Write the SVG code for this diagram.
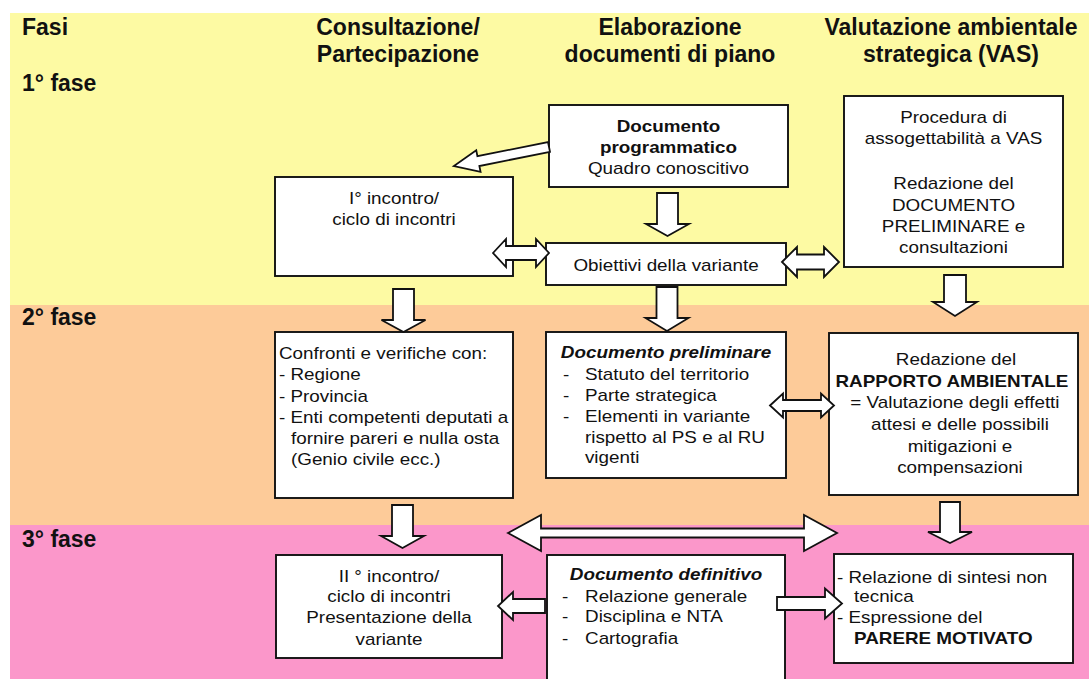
<svg xmlns="http://www.w3.org/2000/svg" width="1089" height="679" viewBox="0 0 1089 679">
<style>
.box{fill:#fff;stroke:#111;stroke-width:1.9}
.arr{fill:#fff;stroke:#111;stroke-width:1.8;stroke-linejoin:miter}
.t{font-family:"Liberation Sans",Arial,sans-serif;font-size:15.7px;fill:#111}
.b{font-weight:bold}
.bi{font-weight:bold;font-style:italic}
.h{font-family:"Liberation Sans",Arial,sans-serif;font-weight:bold;font-size:23px;fill:#111}
.m{text-anchor:middle}
</style>
<rect x="0" y="0" width="1089" height="679" fill="#fff"/>
<g id="bands">
<rect x="10" y="13" width="1079" height="292" fill="#FDFAA3"/>
<rect x="10" y="305" width="1079" height="220" fill="#FDCB99"/>
<rect x="10" y="525" width="1079" height="154" fill="#FB97CA"/>
</g>
<g id="headers">
<text class="h" x="22" y="35">Fasi</text>
<text class="h m" x="398" y="35">Consultazione/</text>
<text class="h m" x="398" y="62">Partecipazione</text>
<text class="h m" x="670" y="35">Elaborazione</text>
<text class="h m" x="670" y="62">documenti di piano</text>
<text class="h m" x="951" y="35">Valutazione ambientale</text>
<text class="h m" x="951" y="62">strategica (VAS)</text>
<text class="h" x="22" y="91">1° fase</text>
<text class="h" x="22" y="325">2° fase</text>
<text class="h" x="22" y="547">3° fase</text>
</g>
<g id="doc_prog">
<rect class="box" x="549" y="105" width="239" height="82"/>
<g transform="translate(668.5,0) scale(1.2,1)">
<text class="t m b" x="0" y="132">Documento</text>
<text class="t m b" x="0" y="153">programmatico</text>
<text class="t m" x="0" y="174">Quadro conoscitivo</text>
</g>
</g>
<g id="obiettivi">
<rect class="box" x="546" y="243" width="240" height="42"/>
<g transform="translate(666,0) scale(1.2,1)">
<text class="t m" x="0" y="271">Obiettivi della variante</text>
</g>
</g>
<g id="incontro1">
<rect class="box" x="275" y="177" width="238" height="99"/>
<g transform="translate(394,0) scale(1.2,1)">
<text class="t m" x="0" y="204">I° incontro/</text>
<text class="t m" x="0" y="225">ciclo di incontri</text>
</g>
</g>
<g id="vas1">
<rect class="box" x="844" y="96" width="219" height="171"/>
<g transform="translate(953.5,0) scale(1.2,1)">
<text class="t m" x="0" y="123">Procedura di</text>
<text class="t m" x="0" y="144">assogettabilità a VAS</text>
<text class="t m" x="0" y="189">Redazione del</text>
<text class="t m" x="0" y="211">DOCUMENTO</text>
<text class="t m" x="0" y="232">PRELIMINARE e</text>
<text class="t m" x="0" y="253">consultazioni</text>
</g>
</g>
<g id="confronti">
<rect class="box" x="275" y="332" width="238" height="166"/>
<g transform="translate(279,0) scale(1.2,1)">
<text class="t" x="0" y="359">Confronti e verifiche con:</text>
<text class="t" x="0" y="380">- Regione</text>
<text class="t" x="0" y="402">- Provincia</text>
<text class="t" x="0" y="423">- Enti competenti deputati a</text>
<text class="t" x="10" y="444">fornire pareri e nulla osta</text>
<text class="t" x="10" y="465">(Genio civile ecc.)</text>
</g>
</g>
<g id="doc_prel">
<rect class="box" x="546" y="332" width="240" height="146"/>
<g transform="translate(666,0) scale(1.2,1)">
<text class="t m bi" x="0" y="358">Documento preliminare</text>
</g>
<g transform="translate(563,0) scale(1.2,1)">
<text class="t" x="0" y="380">-</text>
<text class="t" x="18.3" y="380">Statuto del territorio</text>
<text class="t" x="0" y="401">-</text>
<text class="t" x="18.3" y="401">Parte strategica</text>
<text class="t" x="0" y="422">-</text>
<text class="t" x="18.3" y="422">Elementi in variante</text>
<text class="t" x="18.3" y="443">rispetto al PS e al RU</text>
<text class="t" x="18.3" y="463">vigenti</text>
</g>
</g>
<g id="rapporto">
<rect class="box" x="829" y="333" width="249" height="162"/>
<g transform="scale(1.2,1)">
<text class="t m" x="796.7" y="365">Redazione del</text>
<text class="t m b" x="793.3" y="387">RAPPORTO AMBIENTALE</text>
<text class="t m" x="795.8" y="408">= Valutazione degli effetti</text>
<text class="t m" x="800" y="430">attesi e delle possibili</text>
<text class="t m" x="800" y="452">mitigazioni e</text>
<text class="t m" x="800" y="473">compensazioni</text>
</g>
</g>
<g id="incontro2">
<rect class="box" x="276" y="555" width="226" height="103"/>
<g transform="translate(389,0) scale(1.2,1)">
<text class="t m" x="0" y="582">II ° incontro/</text>
<text class="t m" x="0" y="602">ciclo di incontri</text>
<text class="t m" x="0" y="623">Presentazione della</text>
<text class="t m" x="0" y="645">variante</text>
</g>
</g>
<g id="doc_def">
<rect class="box" x="547" y="555" width="238" height="135"/>
<g transform="translate(666,0) scale(1.2,1)">
<text class="t m bi" x="0" y="580">Documento definitivo</text>
</g>
<g transform="translate(562,0) scale(1.2,1)">
<text class="t" x="0" y="602">-</text>
<text class="t" x="19.2" y="602">Relazione generale</text>
<text class="t" x="0" y="622">-</text>
<text class="t" x="19.2" y="622">Disciplina e NTA</text>
<text class="t" x="0" y="644">-</text>
<text class="t" x="19.2" y="644">Cartografia</text>
</g>
</g>
<g id="vas3">
<rect class="box" x="834" y="554" width="239" height="109"/>
<g transform="translate(837,0) scale(1.2,1)">
<text class="t" x="0" y="583">- Relazione di sintesi non</text>
<text class="t" x="14.2" y="602">tecnica</text>
<text class="t" x="0" y="623">- Espressione del</text>
<text class="t b" x="14.2" y="644">PARERE MOTIVATO</text>
</g>
</g>
<g id="connectors">
<polygon class="arr" transform="translate(549,147) rotate(168.7)" points="0,-5 72,-5 72,-11 97,0 72,11 72,5 0,5"/>
<polygon class="arr" points="657,193 678,193 678,224 689,224 667.5,236 646,224 657,224"/>
<polygon class="arr" points="393,289 414,289 414,320 425.5,320 403.5,332 381.5,320 393,320"/>
<polygon class="arr" points="656.5,287 677.5,287 677.5,318 688.5,318 667,331 645.5,318 656.5,318"/>
<polygon class="arr" points="944,275 966,275 966,302 977,302 955,316 933,302 944,302"/>
<polygon class="arr" points="392,505 413,505 413,536 424,536 402.5,548 381,536 392,536"/>
<polygon class="arr" points="940,502 960,502 960,532 972,532 950,543 928,532 940,532"/>
<polygon class="arr" points="493,253 506,239 506,246 536,246 536,239 549,253 536,267 536,260 506,260 506,267"/>
<polygon class="arr" points="782,262 797,247 797,254.5 824,254.5 824,247 839,262 824,277 824,269.5 797,269.5 797,277"/>
<polygon class="arr" points="770,405.5 783,393.5 783,400 821,400 821,393.5 834,405.5 821,417.5 821,411 783,411 783,417.5"/>
<polygon class="arr" points="508,533 541,515 541,528.5 804,528.5 804,515 837,533 804,551 804,537.5 541,537.5 541,551"/>
<polygon class="arr" points="545,599 513,599 513,592 498,606 513,620 513,613 545,613"/>
<polygon class="arr" points="777,597 825,597 825,588.5 842,603.5 825,618.5 825,610 777,610"/>
</g>
</svg>
